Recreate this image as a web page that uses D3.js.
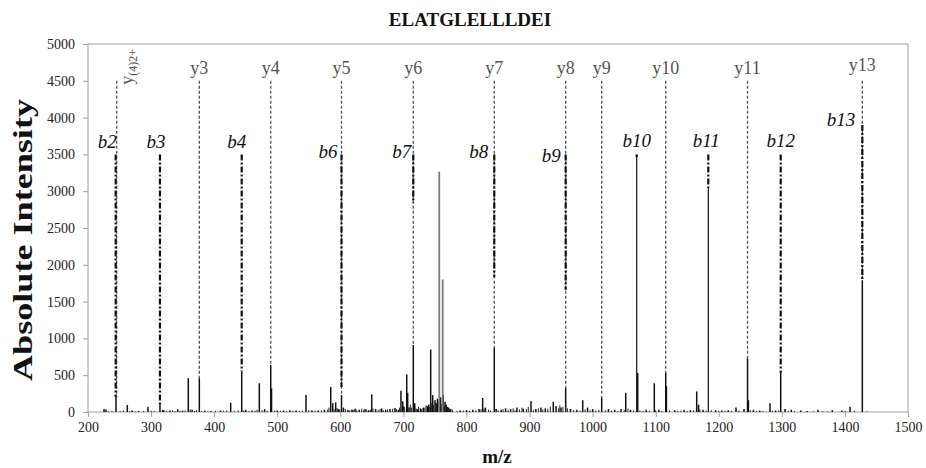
<!DOCTYPE html>
<html>
<head>
<meta charset="utf-8">
<script src="https://cdn.jsdelivr.net/npm/d3@7"></script>
<style>
  html, body { margin: 0; padding: 0; background: #fff; }
  svg { display: block; }
</style>
</head>
<body>
<svg id="chart" width="926" height="468"></svg>
<script>
// ---------------- DATA ----------------
const title = "ELATGLELLLDEI";
const xTicks = [200, 300, 400, 500, 600, 700, 800, 900, 1000, 1100, 1200, 1300, 1400, 1500];
const yTicks = [0, 500, 1000, 1500, 2000, 2500, 3000, 3500, 4000, 4500, 5000];

// observed spectrum peaks (m/z, absolute intensity)
const peakMz = [225.4, 228.5, 244.4, 262.3, 270, 280, 295.1, 314.1, 320, 330, 342.2, 350, 359.0, 365, 376.5, 385, 395, 410,
  426.2, 443.7, 450, 460, 471.6, 480, 489.7, 491, 500, 510, 520, 530, 545.6, 555, 565, 575, 584.8, 588, 592.7, 597,
  601.9, 605, 612, 620, 623.3, 630, 639.2, 645, 649.8, 656, 665.6, 672, 678.8, 686.7, 692, 696.2, 698.9, 705.3, 706.8,
  709, 715.7, 718, 722, 727, 731.6, 737.9, 740, 743.3, 746.5, 750.1, 752, 754, 759, 763.3, 766, 768, 771, 775, 790, 800,
  810, 820, 825.7, 830, 844.1, 847, 855, 862, 870, 880, 890, 902.3, 910, 918, 925, 937.7, 942, 950, 957.3, 965, 975,
  984.3, 992, 1000, 1014.4, 1025, 1035, 1045, 1052.5, 1060, 1069.9, 1071.5, 1085, 1097.8, 1105, 1115.9, 1117, 1130,
  1145, 1155, 1165.0, 1168, 1175, 1183.4, 1195, 1205, 1215, 1227.3, 1240, 1245.6, 1247, 1255, 1265, 1281.2, 1290,
  1298.2, 1305, 1315, 1330, 1340, 1357.3, 1380, 1395, 1408.1, 1427.6];
const peakIntensity = [40, 35, 205, 95, 20, 15, 70, 110, 25, 20, 40, 20, 460, 30, 460, 20, 15, 20,
  125, 550, 30, 20, 390, 40, 640, 320, 20, 20, 25, 20, 230, 25, 20, 30, 340, 120, 130, 40,
  230, 60, 30, 30, 45, 30, 40, 25, 240, 40, 50, 30, 40, 55, 30, 290, 145, 510, 260,
  60, 910, 120, 40, 50, 60, 80, 100, 850, 230, 160, 120, 180, 200, 230, 140, 100, 60, 40, 20, 25,
  30, 40, 190, 60, 870, 40, 30, 50, 40, 60, 45, 150, 40, 60, 50, 140, 80, 60, 330, 40, 30,
  160, 60, 40, 200, 40, 30, 40, 260, 30, 3460, 530, 30, 390, 30, 530, 350, 25,
  30, 25, 280, 100, 30, 3050, 25, 20, 25, 60, 40, 730, 160, 30, 20, 120, 20,
  530, 40, 30, 20, 15, 30, 25, 20, 70, 1790];

// low-level background peaks
const minorPeakMz = [232, 238, 251, 256, 266, 275, 288, 300, 305, 318, 324, 334, 338, 346, 354, 362, 369, 372, 380, 390,
  402, 415, 420, 432, 438, 447, 455, 465, 468, 476, 484, 496, 505, 515, 525, 535, 540, 550, 560, 570, 580, 582, 590,
  595, 599, 608, 615, 618, 626, 634, 637, 642, 648, 652, 660, 663, 668, 675, 683, 689, 694, 700, 702, 711, 713, 720,
  724, 729, 734, 736, 741, 745, 748, 755, 757, 761, 765, 770, 773, 778, 785, 795, 805, 815, 823, 828, 835, 838, 850,
  858, 866, 874, 877, 884, 888, 895, 898, 906, 914, 921, 929, 933, 946, 948, 953, 960, 970, 980, 988, 996, 1005, 1010,
  1020, 1030, 1040, 1050, 1056, 1065, 1075, 1080, 1090, 1100, 1110, 1122, 1135, 1140, 1150, 1160, 1170, 1180, 1188,
  1200, 1210, 1220, 1232, 1250, 1260, 1270, 1285, 1295, 1310, 1320, 1350, 1365, 1372, 1400, 1415, 1435];
const minorPeakIntensity = [10, 15, 12, 20, 12, 10, 15, 18, 12, 30, 15, 25, 12, 18, 22, 35, 15, 25, 12, 10,
  15, 18, 22, 15, 25, 20, 12, 15, 30, 25, 18, 20, 15, 12, 18, 15, 20, 25, 18, 22, 35, 60, 40,
  55, 35, 40, 25, 35, 30, 45, 25, 35, 30, 45, 30, 40, 25, 35, 45, 40, 60, 80, 70, 100, 60, 50,
  70, 40, 60, 90, 70, 120, 90, 150, 100, 110, 80, 70, 50, 30, 15, 20, 15, 25, 35, 45, 30, 20, 25,
  40, 30, 50, 25, 35, 60, 40, 70, 30, 50, 35, 45, 70, 50, 90, 70, 50, 25, 20, 35, 25, 20, 30,
  25, 20, 15, 30, 45, 25, 20, 15, 20, 25, 15, 20, 15, 20, 15, 25, 35, 20, 25,
  15, 18, 15, 20, 25, 15, 15, 18, 20, 15, 12, 10, 12, 10, 12, 15, 10];

// unassigned major peaks (drawn grey)
const greyPeakMz = [756.9, 762.3];
const greyPeakIntensity = [3265, 1800];

// y-ion annotations
const yIonNames = ["y(4)2+", "y3", "y4", "y5", "y6", "y7", "y8", "y9", "y10", "y11", "y13"];
const yIonMz = [245.5, 376.5, 489.7, 601.9, 715.7, 844.1, 957.3, 1014.4, 1115.9, 1245.6, 1427.6];
const yIonPeak = [205, 460, 640, 230, 910, 870, 330, 200, 530, 730, 1790];
const yIonLevel = 4500;

// b-ion annotations
const bIonNames = ["b2", "b3", "b4", "b6", "b7", "b8", "b9", "b10", "b11", "b12", "b13"];
const bIonMz = [243.9, 314.1, 443.7, 601.9, 715.7, 844.1, 957.3, 1069.9, 1183.4, 1298.2, 1427.6];
const bIonLineEnd = [205, 110, 550, 340, 2840, 1835, 1660, 3460, 3043, 530, 1790];
const bIonLevel = [3500, 3500, 3500, 3500, 3500, 3500, 3500, 3500, 3500, 3500, 3900];

// ---------------- LAYOUT ----------------
const svg = d3.select("#chart");
const plot = { left: 88, right: 908, top: 44, bottom: 412 };
const x = d3.scaleLinear().domain([200, 1500]).range([plot.left, plot.right]);
const y = d3.scaleLinear().domain([0, 5000]).range([plot.bottom, plot.top]);
const serif = "'Liberation Serif', 'Times New Roman', serif";

// label placement relative to each b annotation line
const bLabelPlace = [
  { anchor: "end", dx: 1, dy: -6 },
  { anchor: "middle", dx: -4, dy: -6 },
  { anchor: "middle", dx: -5, dy: -6 },
  { anchor: "end", dx: -4, dy: 4 },
  { anchor: "end", dx: -2, dy: 4 },
  { anchor: "end", dx: -6, dy: 4 },
  { anchor: "end", dx: -5, dy: 8 },
  { anchor: "middle", dx: 0, dy: -7 },
  { anchor: "middle", dx: -2, dy: -7 },
  { anchor: "middle", dx: 0, dy: -7 },
  { anchor: "end", dx: -7, dy: 1 }
];

// frame
svg.append("rect")
  .attr("x", plot.left).attr("y", plot.top)
  .attr("width", plot.right - plot.left).attr("height", plot.bottom - plot.top)
  .attr("fill", "none").attr("stroke", "#a0a0a0").attr("stroke-width", 1);

// axes
const yAxis = svg.append("g")
  .attr("transform", `translate(${plot.left},0)`)
  .call(d3.axisLeft(y).tickValues(yTicks).tickSize(5).tickPadding(8).tickFormat(d3.format("d")));
const xAxis = svg.append("g")
  .attr("transform", `translate(0,${plot.bottom})`)
  .call(d3.axisBottom(x).tickValues(xTicks).tickSize(5).tickPadding(5).tickFormat(d3.format("d")));
[yAxis, xAxis].forEach(g => {
  g.select(".domain").remove();
  g.selectAll(".tick line").attr("stroke", "#a0a0a0");
  g.selectAll(".tick text").attr("fill", "#222").style("font-family", serif).style("font-size", "14px");
});

// background peaks
const minor = minorPeakMz.map((m, i) => ({ m, v: minorPeakIntensity[i] }));
svg.append("g").selectAll("line").data(minor).join("line")
  .attr("x1", d => x(d.m)).attr("x2", d => x(d.m))
  .attr("y1", y(0)).attr("y2", d => y(d.v))
  .attr("stroke", "#222").attr("stroke-width", 1);

// peaks
const peaks = peakMz.map((m, i) => ({ m, v: peakIntensity[i] }));
svg.append("g").selectAll("line").data(peaks).join("line")
  .attr("x1", d => x(d.m)).attr("x2", d => x(d.m))
  .attr("y1", y(0)).attr("y2", d => y(d.v))
  .attr("stroke", "#111").attr("stroke-width", d => d.v > 2000 ? 1.2 : 1.5);

const grey = greyPeakMz.map((m, i) => ({ m, v: greyPeakIntensity[i] }));
svg.append("g").selectAll("line").data(grey).join("line")
  .attr("x1", d => x(d.m)).attr("x2", d => x(d.m))
  .attr("y1", y(0)).attr("y2", d => y(d.v))
  .attr("stroke", "#7a7a7a").attr("stroke-width", 1.8);

// y-ion dashed annotations
const yIons = yIonNames.map((n, i) => ({ n, m: yIonMz[i], p: yIonPeak[i] }));
svg.append("g").selectAll("line").data(yIons).join("line")
  .attr("x1", d => x(d.m)).attr("x2", d => x(d.m))
  .attr("y1", y(yIonLevel)).attr("y2", d => y(d.p))
  .attr("stroke", "#555").attr("stroke-width", 1.3).attr("stroke-dasharray", "3,2");

// b-ion dash-dot annotations
const bIons = bIonNames.map((n, i) => ({ n, m: bIonMz[i], e: bIonLineEnd[i], t: bIonLevel[i], p: bLabelPlace[i] }));
svg.append("g").selectAll("line").data(bIons).join("line")
  .attr("x1", d => x(d.m)).attr("x2", d => x(d.m))
  .attr("y1", d => y(d.t)).attr("y2", d => y(d.e))
  .attr("stroke", "#111").attr("stroke-width", 2.2).attr("stroke-dasharray", "6,2,2,2");

// y labels
yIons.forEach((d, i) => {
  if (i === 0) {
    const t = svg.append("text")
      .attr("transform", `translate(${x(d.m) + 16},${y(yIonLevel) + 4}) rotate(-90)`)
      .attr("fill", "#555").style("font-family", serif).style("font-size", "18px");
    t.append("tspan").text("y");
    t.append("tspan").attr("font-size", "12px").attr("dy", 4).text("(4)2+");
  } else {
    svg.append("text")
      .attr("x", x(d.m)).attr("y", y(yIonLevel) - (d.n === "y13" ? 10 : 7))
      .attr("text-anchor", "middle")
      .attr("fill", "#555").style("font-family", serif).style("font-size", "18px")
      .text(d.n);
  }
});

// b labels
svg.append("g").selectAll("text").data(bIons).join("text")
  .attr("x", d => x(d.m) + d.p.dx).attr("y", d => y(d.t) + d.p.dy)
  .attr("text-anchor", d => d.p.anchor)
  .attr("fill", "#111").style("font-family", serif).style("font-size", "19px").style("font-style", "italic")
  .text(d => d.n);

// titles
svg.append("text").attr("x", 470).attr("y", 26).attr("text-anchor", "middle")
  .style("font-family", serif).style("font-size", "19px").style("font-weight", "bold").attr("fill", "#111")
  .text(title);
svg.append("text").attr("x", 497).attr("y", 463).attr("text-anchor", "middle")
  .style("font-family", serif).style("font-size", "19px").style("font-weight", "bold").attr("fill", "#111")
  .text("m/z");
svg.append("text").attr("transform", "translate(32,240) rotate(-90)").attr("text-anchor", "middle")
  .attr("textLength", 282).attr("lengthAdjust", "spacingAndGlyphs")
  .style("font-family", serif).style("font-size", "27px").style("font-weight", "bold").attr("fill", "#111")
  .text("Absolute Intensity");
</script>
</body>
</html>
